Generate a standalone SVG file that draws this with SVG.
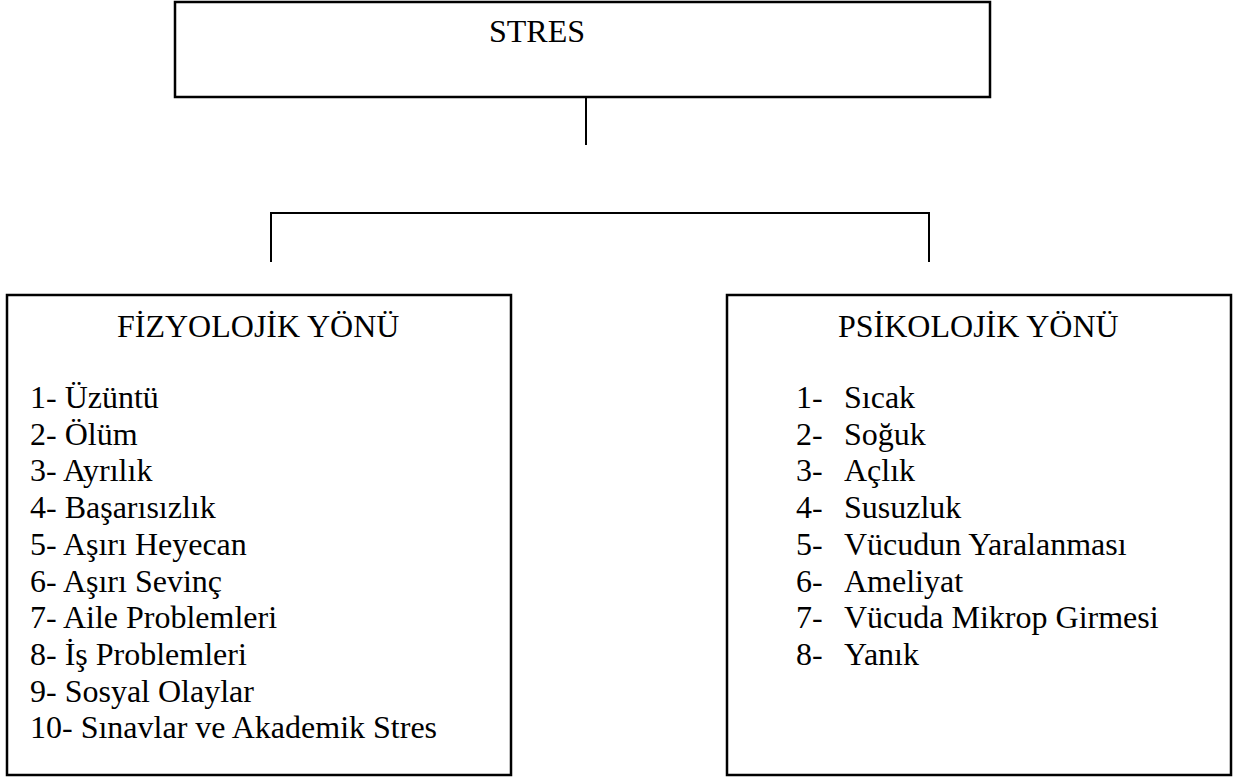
<svg xmlns="http://www.w3.org/2000/svg" width="1244" height="778" viewBox="0 0 1244 778">
<style>
.box{fill:#fff;stroke:#000;stroke-width:2.5}
.ln{stroke:#000;stroke-width:2;fill:none}
.t{font-family:'Liberation Serif','DejaVu Serif',serif;font-size:32px;fill:#000}
</style>
<rect width="1244" height="778" fill="#fff"/>
<g id="connectors">
<line class="ln" x1="586" y1="97" x2="586" y2="145"/>
<polyline class="ln" points="271,262 271,213 929,213 929,262"/>
</g>
<g id="stres">
<rect class="box" x="175" y="2" width="815" height="95"/>
<text class="t" font-family="Liberation Serif, serif" x="489" y="42">STRES</text>
</g>
<g id="fizyolojik" class="t" font-family="Liberation Serif, serif">
<rect class="box" x="7" y="295" width="504" height="480"/>
<text class="t" x="117" y="337">FİZYOLOJİK YÖNÜ</text>
<text class="t" x="30" y="408">1- Üzüntü</text>
<text class="t" x="30" y="444.7">2- Ölüm</text>
<text class="t" x="30" y="481.4">3- Ayrılık</text>
<text class="t" x="30" y="518.1">4- Başarısızlık</text>
<text class="t" x="30" y="554.8">5- Aşırı Heyecan</text>
<text class="t" x="30" y="591.5">6- Aşırı Sevinç</text>
<text class="t" x="30" y="628.2">7- Aile Problemleri</text>
<text class="t" x="30" y="664.9">8- İş Problemleri</text>
<text class="t" x="30" y="701.6">9- Sosyal Olaylar</text>
<text class="t" x="30" y="738.3">10- Sınavlar ve Akademik Stres</text>
</g>
<g id="psikolojik" class="t" font-family="Liberation Serif, serif">
<rect class="box" x="727" y="295" width="504" height="480"/>
<text class="t" x="838" y="337">PSİKOLOJİK YÖNÜ</text>
<text class="t" x="796" y="408">1-</text><text class="t" x="844" y="408">Sıcak</text>
<text class="t" x="796" y="444.7">2-</text><text class="t" x="844" y="444.7">Soğuk</text>
<text class="t" x="796" y="481.4">3-</text><text class="t" x="844" y="481.4">Açlık</text>
<text class="t" x="796" y="518.1">4-</text><text class="t" x="844" y="518.1">Susuzluk</text>
<text class="t" x="796" y="554.8">5-</text><text class="t" x="844" y="554.8">Vücudun Yaralanması</text>
<text class="t" x="796" y="591.5">6-</text><text class="t" x="844" y="591.5">Ameliyat</text>
<text class="t" x="796" y="628.2">7-</text><text class="t" x="844" y="628.2">Vücuda Mikrop Girmesi</text>
<text class="t" x="796" y="664.9">8-</text><text class="t" x="844" y="664.9">Yanık</text>
</g>
</svg>
